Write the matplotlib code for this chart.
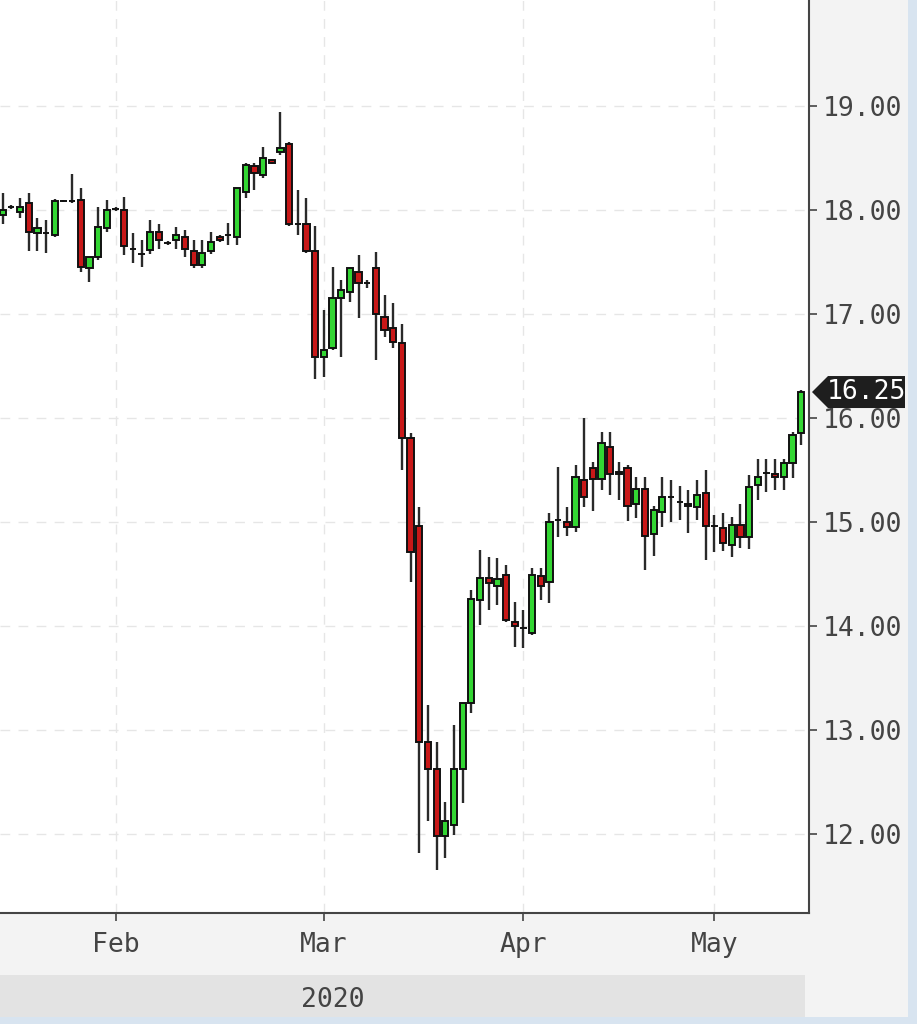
import matplotlib
matplotlib.use("Agg")
import matplotlib.pyplot as plt
from matplotlib.patches import Rectangle, Polygon
from matplotlib.transforms import IdentityTransform
import numpy as np

# daily candles (mid Jan .. mid May 2020)
opens = [17.95, 18.03, 17.98, 18.07, 17.78, 17.78, 17.76, 18.09, 18.09, 18.10,
         17.44, 17.55, 17.83, 18.01, 18.00, 17.63, 17.58, 17.62, 17.79, 17.68,
         17.71, 17.74, 17.61, 17.47, 17.61, 17.74, 17.76, 17.74, 18.17, 18.42,
         18.34, 18.48, 18.56, 18.64, 17.87, 17.87, 17.61, 16.59, 16.67, 17.15,
         17.21, 17.40, 17.30, 17.44, 16.97, 16.87, 16.72, 15.81, 14.96, 12.88,
         12.62, 11.98, 12.09, 12.62, 13.26, 14.25, 14.46, 14.38, 14.49, 14.04,
         13.98, 13.93, 14.48, 14.42, 15.02, 15.00, 14.95, 15.40, 15.52, 15.41,
         15.72, 15.48, 15.52, 15.17, 15.32, 14.88, 15.10, 15.24, 15.19, 15.17,
         15.14, 15.28, 14.96, 14.94, 14.78, 14.97, 14.86, 15.36, 15.47, 15.46,
         15.43, 15.57, 15.86]
highs = [18.16, 18.05, 18.12, 18.16, 17.92, 17.90, 18.11, 18.10, 18.35, 18.21,
         17.55, 18.03, 18.10, 18.03, 18.13, 17.78, 17.71, 17.90, 17.87, 17.70,
         17.84, 17.81, 17.71, 17.71, 17.79, 17.76, 17.88, 18.21, 18.45, 18.45,
         18.61, 18.49, 18.94, 18.65, 18.19, 18.12, 17.85, 17.04, 17.45, 17.33,
         17.44, 17.57, 17.33, 17.60, 17.18, 17.11, 16.90, 15.86, 15.14, 13.24,
         12.88, 12.31, 13.05, 13.26, 14.35, 14.73, 14.66, 14.65, 14.59, 14.23,
         14.15, 14.56, 14.56, 15.09, 15.53, 15.14, 15.55, 16.00, 15.58, 15.87,
         15.87, 15.58, 15.55, 15.43, 15.43, 15.15, 15.43, 15.40, 15.35, 15.31,
         15.40, 15.50, 15.07, 15.09, 15.05, 15.17, 15.45, 15.61, 15.61, 15.61,
         15.61, 15.87, 16.27]
lows = [17.87, 18.01, 17.92, 17.61, 17.61, 17.59, 17.74, 18.08, 18.07, 17.40,
        17.31, 17.52, 17.79, 17.99, 17.57, 17.49, 17.45, 17.58, 17.63, 17.66,
        17.63, 17.55, 17.44, 17.44, 17.58, 17.69, 17.66, 17.66, 18.12, 18.19,
        18.31, 18.44, 18.53, 17.85, 17.76, 17.59, 16.38, 16.39, 16.65, 16.59,
        17.12, 16.96, 17.25, 16.56, 16.78, 16.67, 15.50, 14.42, 11.82, 12.12,
        11.65, 11.77, 11.99, 12.30, 13.16, 14.01, 14.15, 14.20, 14.04, 13.80,
        13.79, 13.91, 14.25, 14.22, 14.86, 14.87, 14.90, 15.14, 15.11, 15.31,
        15.26, 15.21, 15.01, 15.04, 14.54, 14.67, 14.95, 15.00, 15.02, 14.89,
        15.02, 14.63, 14.71, 14.72, 14.66, 14.75, 14.74, 15.21, 15.29, 15.31,
        15.31, 15.42, 15.74]
closes = [18.00, 18.03, 18.03, 17.79, 17.83, 17.78, 18.09, 18.09, 18.09, 17.45,
          17.55, 17.84, 18.00, 18.01, 17.65, 17.63, 17.58, 17.79, 17.71, 17.68,
          17.76, 17.63, 17.47, 17.59, 17.69, 17.71, 17.76, 18.21, 18.43, 18.36,
          18.50, 18.45, 18.60, 17.87, 17.87, 17.61, 16.59, 16.65, 17.15, 17.23,
          17.44, 17.30, 17.30, 17.00, 16.85, 16.73, 15.81, 14.71, 12.88, 12.62,
          11.98, 12.12, 12.62, 13.26, 14.26, 14.46, 14.41, 14.45, 14.06, 14.00,
          13.98, 14.49, 14.38, 15.00, 15.02, 14.95, 15.43, 15.24, 15.41, 15.76,
          15.46, 15.46, 15.15, 15.32, 14.87, 15.12, 15.24, 15.24, 15.19, 15.15,
          15.26, 14.96, 14.96, 14.80, 14.97, 14.86, 15.34, 15.43, 15.47, 15.43,
          15.57, 15.84, 16.25]

# first candle of each month on the axis
month_labels = ["Feb", "Mar", "Apr", "May"]
month_start = [13, 37, 60, 82]
year_label = "2020"
price_ticks = [12, 13, 14, 15, 16, 17, 18, 19]

plt.rcParams["font.family"] = "DejaVu Sans Mono"

W, H = 917, 1024
fig = plt.figure(figsize=(W / 100, H / 100), dpi=100, facecolor="#f3f3f3")
ax = fig.add_axes([0, (H - 913) / H, 809 / W, 913 / H])
ax.set_facecolor("white")

o = np.array(opens)
c = np.array(closes)
idx = np.arange(len(o))
body_col = np.where(c > o, "#33d633", "#c81818")

ax.vlines(idx, lows, highs, color="#2a2a2a", lw=1.7, zorder=2)
ax.bar(idx, c - o, bottom=o, width=0.72, color=body_col,
       edgecolor="#111111", linewidth=1.4, zorder=3)

ax.set_xlim(-0.31, 92.9)
ax.set_ylim(11.24, 20.02)

ax.set_yticks(price_ticks)
ax.set_yticklabels([f"{v:.2f}" for v in price_ticks])
ax.yaxis.tick_right()
ax.set_xticks(month_start)
ax.set_xticklabels(month_labels)

ax.grid(True, color="#e6e6e6", linestyle=(0, (7, 6)), linewidth=1.0, zorder=0)
ax.set_axisbelow(True)

for s in ["left", "top"]:
    ax.spines[s].set_visible(False)
for s in ["right", "bottom"]:
    ax.spines[s].set_color("#444444")
    ax.spines[s].set_linewidth(1.5)

ax.tick_params(axis="y", direction="out", length=6, width=1.2, color="#444444",
               labelsize=19, labelcolor="#444444", pad=4)
ax.tick_params(axis="x", direction="out", length=6, width=1.2, color="#444444",
               labelsize=19, labelcolor="#444444", pad=8)

# last price tag
px, py = ax.get_yaxis_transform().transform((1.0, closes[-1]))
tag = Polygon([(px + 3, py), (px + 19, py + 16), (px + 96, py + 16),
               (px + 96, py - 16), (px + 19, py - 16)],
              closed=True, transform=IdentityTransform(), fc="#1e1e1e",
              ec="none", clip_on=False, zorder=5)
fig.patches.append(tag)
fig.text((px + 57) / W, py / H, f"{closes[-1]:.2f}", color="white",
         fontsize=19, ha="center", va="center", zorder=6)

# year band and frame strips
fig.patches.append(Rectangle((0, 7 / H), 805 / W, 42 / H, transform=fig.transFigure,
                             fc="#e3e3e3", ec="none", zorder=0))
fig.text(333 / W, 1 - 1000 / H, year_label, ha="center", va="center",
         fontsize=19, color="#444444")
fig.patches.append(Rectangle((908 / W, 0), 9 / W, 1, transform=fig.transFigure,
                             fc="#d8e4f0", ec="none", zorder=0))
fig.patches.append(Rectangle((0, 0), 1, 7 / H, transform=fig.transFigure,
                             fc="#d8e4f0", ec="none", zorder=0))

fig.savefig("out.png", dpi=100, facecolor=fig.get_facecolor())
